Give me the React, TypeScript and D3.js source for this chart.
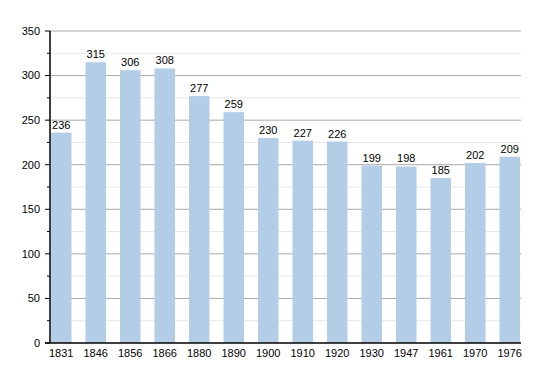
import React from 'react';
import * as d3 from 'd3';

const years = ['1831', '1846', '1856', '1866', '1880', '1890', '1900', '1910', '1920', '1930', '1947', '1961', '1970', '1976'];
const population = [236, 315, 306, 308, 277, 259, 230, 227, 226, 199, 198, 185, 202, 209];
const majorTicks = [0, 50, 100, 150, 200, 250, 300, 350];
const minorTicks = [25, 75, 125, 175, 225, 275, 325];

const W = 550;
const H = 373;
const left = 50;
const right = 521;
const top = 31;
const bottom = 343;

export default function App() {
  const x = d3.scaleBand<string>().domain(years).range([left + 1, right - 1]).paddingInner(0.406).paddingOuter(0);
  const y = d3.scaleLinear().domain([0, 350]).range([bottom, top]);
  const font = 'Liberation Sans, Arial, sans-serif';

  return (
    <svg width={W} height={H} style={{ position: 'absolute', left: 0, top: 0 }} fontFamily={font}>
      <rect width={W} height={H} fill="#fff" />
      {/* minor grid */}
      {minorTicks.map((t) => (
        <g key={'m' + t}>
          <line x1={left} x2={right} y1={y(t)} y2={y(t)} stroke="#e6e6e6" strokeWidth={1} />
          <line x1={left - 3} x2={left} y1={y(t)} y2={y(t)} stroke="#000" strokeWidth={1} />
        </g>
      ))}
      {/* major grid */}
      {majorTicks.map((t) => (
        <g key={'M' + t}>
          {t > 0 && <line x1={left} x2={right} y1={y(t)} y2={y(t)} stroke="#a8a8a8" strokeWidth={1} />}
          <line x1={left - 5} x2={left} y1={y(t)} y2={y(t)} stroke="#000" strokeWidth={1} />
          <text x={left - 10} y={y(t)} dy="0.35em" textAnchor="end" fontSize={11} fill="#000">{t}</text>
        </g>
      ))}
      {/* bars */}
      {years.map((yr, i) => (
        <g key={yr}>
          <rect x={x(yr)} y={y(population[i])} width={x.bandwidth()} height={bottom - y(population[i])} fill="#b3cde6" />
          <text x={(x(yr) ?? 0) + x.bandwidth() / 2} y={y(population[i]) - 4} textAnchor="middle" fontSize={11} fill="#000">{population[i]}</text>
          <text x={(x(yr) ?? 0) + x.bandwidth() / 2} y={bottom + 14} textAnchor="middle" fontSize={11} fill="#000">{yr}</text>
        </g>
      ))}
      {/* axes */}
      <line x1={left} x2={left} y1={top} y2={bottom} stroke="#000" strokeWidth={1.5} />
      <line x1={left - 5} x2={right} y1={bottom} y2={bottom} stroke="#000" strokeWidth={1.5} />
    </svg>
  );
}
